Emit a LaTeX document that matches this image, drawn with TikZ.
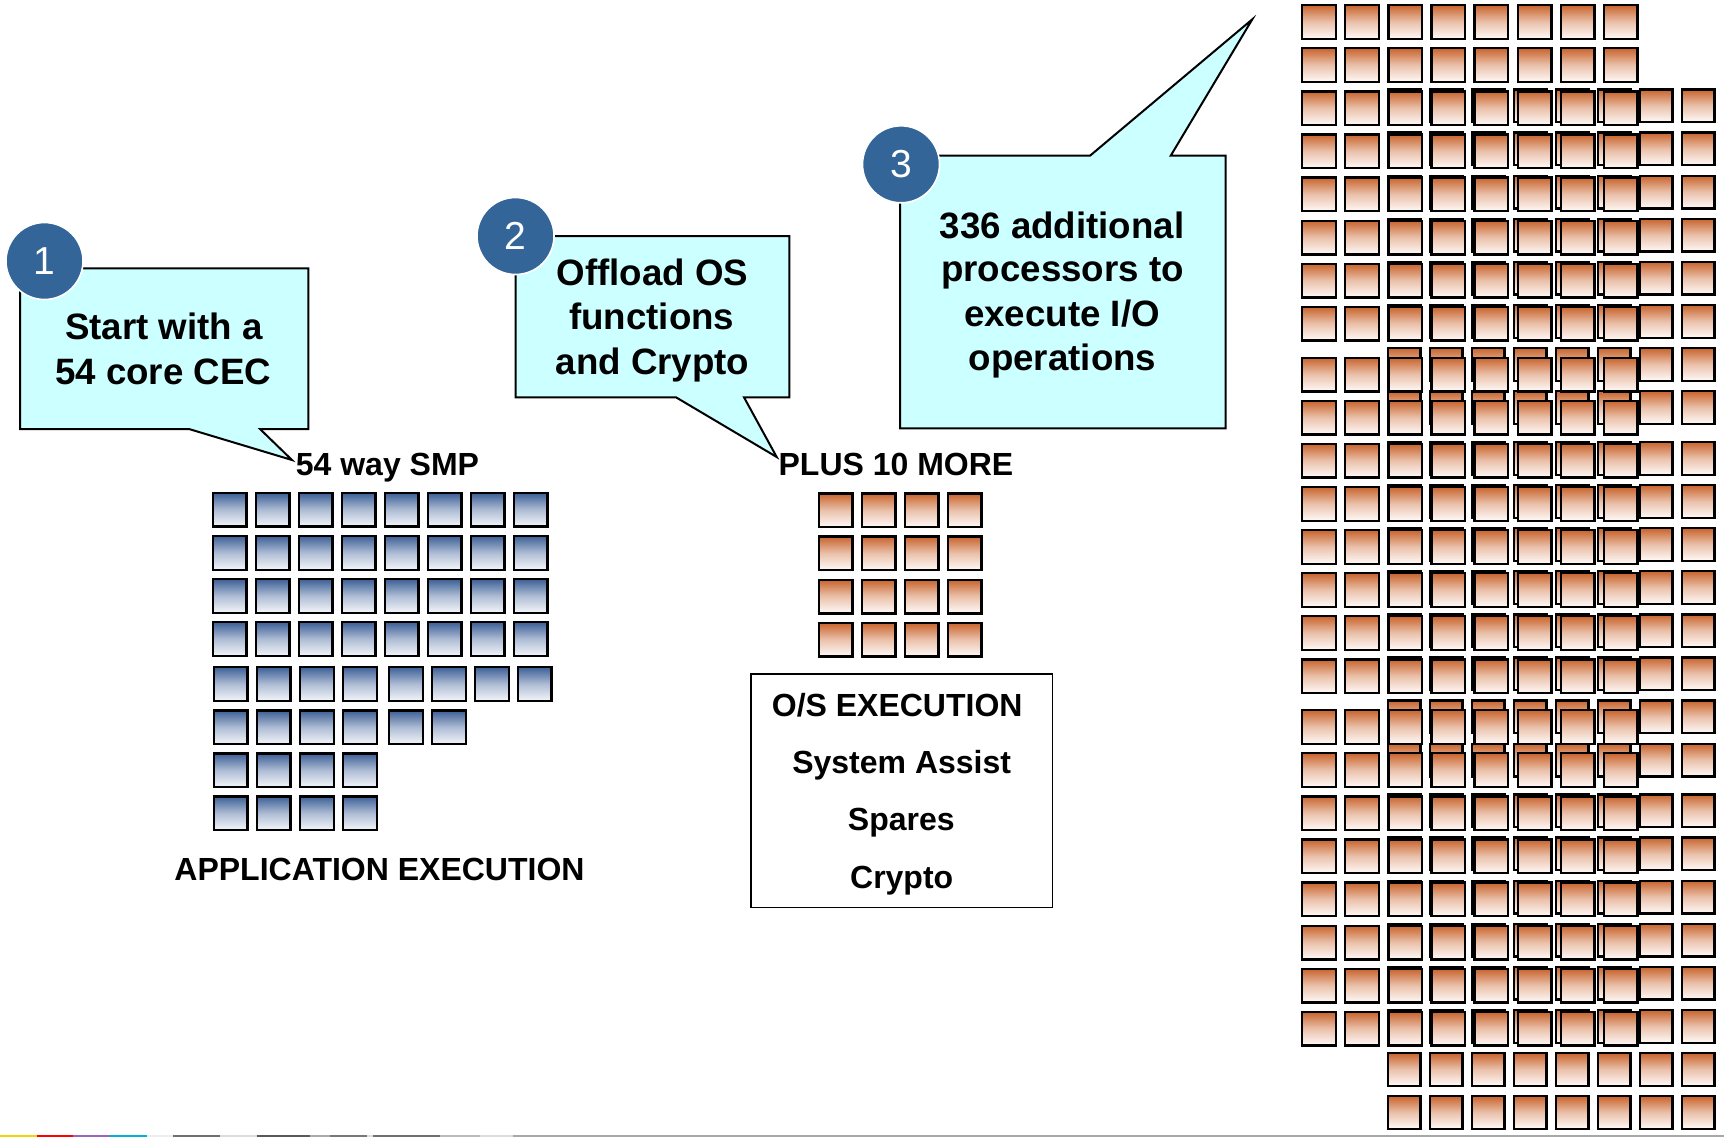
\documentclass[tikz,border=0pt]{standalone}
\usepackage{fontspec}
\setmainfont{Liberation Sans}

\definecolor{calloutfill}{HTML}{CCFFFF}
\definecolor{badgeblue}{HTML}{346599}
\definecolor{coreorange}{HTML}{C8642D}
\definecolor{coreorangebot}{HTML}{FFFAF8}
\definecolor{coreblue}{HTML}{3C5F96}
\definecolor{corebluebot}{HTML}{F4F6FA}
\definecolor{footyellow}{HTML}{F5D10A}
\definecolor{footred}{HTML}{FF0000}
\definecolor{footpurple}{HTML}{9966BB}
\definecolor{footcyan}{HTML}{00B0D8}
\definecolor{footgA}{HTML}{EEEEEE}
\definecolor{footgB}{HTML}{707070}
\definecolor{footgC}{HTML}{DDDDDD}
\definecolor{footgD}{HTML}{5A5A5A}
\definecolor{footgE}{HTML}{AAAAAA}
\definecolor{footgF}{HTML}{777777}
\definecolor{footgG}{HTML}{BBBBBB}
\definecolor{footgH}{HTML}{A8A8A8}

\tikzset{
  corebox/.style={rectangle, draw=black, line width=1.15pt, inner sep=0pt,
    minimum size=16.85pt},
  smpcore/.style={corebox, top color=coreblue, bottom color=corebluebot,
    middle color=coreblue!38!corebluebot},
  iocore/.style={corebox, top color=coreorange, bottom color=coreorangebot,
    middle color=coreorange!38!coreorangebot},
  iocoreback/.style={iocore, minimum size=16.35pt},
  callout/.style={draw=black, line width=1pt, fill=calloutfill, line join=miter},
  badge/.style={circle, fill=badgeblue, draw=white, line width=0.8pt,
    minimum size=38.5pt, inner sep=0pt, text=white,
    font=\fontsize{19.5}{20}\selectfont},
  bubbletext/.style={inner sep=0pt, anchor=base,
    font=\bfseries\fontsize{18.35}{22}\selectfont},
  caption/.style={inner sep=0pt, anchor=base,
    font=\bfseries\fontsize{16}{19}\selectfont},
  osbox/.style={draw=black, line width=0.75pt},
}

\begin{document}
\begin{tikzpicture}[x=0.5pt, y=-0.5pt]
\useasboundingbox (0,0) rectangle (1724,1137);

% ---------- 54-way SMP: application cores ----------
\foreach \r in {0,...,3}
  \foreach \c in {0,...,7}
    \node[smpcore] (smp-\r-\c) at ({229.7+43*\c},{509.7+43.1*\r}) {};
\foreach \x [count=\c] in {212.7,255.7,299,342,388,431,474,516.7}
  \node[smpcore] (smp-4-\c) at (\x+18,684) {};
\foreach \x [count=\c] in {212.7,255.7,299,342,388,431}
  \node[smpcore] (smp-5-\c) at (\x+18,727.3) {};
\foreach \x [count=\c] in {212.7,255.7,299,342} {
  \node[smpcore] (smp-6-\c) at (\x+18,770.3) {};
  \node[smpcore] (smp-7-\c) at (\x+18,813.3) {};
}

\node[caption] (smp) at (387.5,475.7) {54 way SMP};
\node[caption] (app) at (379.5,880) {APPLICATION EXECUTION};

% ---------- ten more: O/S cores ----------
\foreach \r in {0,...,3}
  \foreach \c in {0,...,3}
    \node[iocore] (os-\r-\c) at ({835.7+43*\c},{510.3+43.1*\r}) {};

\node[caption] (plus) at (896,475.7) {PLUS 10 MORE};

\draw[osbox] (751,674) rectangle (1052.7,907.3);
\node[caption] (osexec) at (897.2,716.7) {O/S EXECUTION};
\node[caption] (sap)    at (901.7,773.3) {System Assist};
\node[caption] (spares) at (901.3,830.7) {Spares};
\node[caption] (crypto) at (901.7,888.3) {Crypto};

% ---------- I/O processors: back layer ----------
\foreach \g in {0,1,2}
  \foreach \r in {0,...,7}
    \foreach \c in {0,...,7}
      \node[iocoreback] (iob-\g-\r-\c) at ({1404.2+42*\c},{105.8+43.1*\r+352.5*\g}) {};

% ---------- I/O processors: front layer ----------
\foreach \g in {0,1,2}
  \foreach \r in {0,...,7}
    \foreach \c in {0,...,7}
      \node[iocore] (iof-\g-\r-\c) at ({1319+43.1*\c},{22+43.1*\r+352.5*\g}) {};

% ---------- callout 1 ----------
\coordinate (tip1) at (292,460);
\draw[callout] (20,268.3) -- (308.3,268.3) -- (308.3,429) -- (260,429)
  -- (tip1) -- (189,429) -- (20,429) -- cycle;
\node[bubbletext] (c1a) at (164,339.3) {Start with a};
\node[bubbletext] (c1b) at (163.3,384.3) {54 core CEC};
\node[badge] (b1) at (44.5,261) {1};

% ---------- callout 2 ----------
\coordinate (tip2) at (776.7,457);
\draw[callout] (515.7,236) -- (789.3,236) -- (789.3,397.3) -- (744,397.3)
  -- (tip2) -- (676,397.3) -- (515.7,397.3) -- cycle;
\node[bubbletext] (c2a) at (652.5,285) {Offload OS};
\node[bubbletext] (c2b) at (651.7,329.5) {functions};
\node[bubbletext] (c2c) at (652.5,374) {and Crypto};
\node[badge] (b2) at (515.5,236) {2};

% ---------- callout 3 ----------
\coordinate (tip3) at (1252.3,19.3);
\draw[callout] (900,155.7) -- (1090,155.7) -- (tip3) -- (1170.7,155.7)
  -- (1225.7,155.7) -- (1225.7,428.3) -- (900,428.3) -- cycle;
\node[bubbletext] (c3a) at (1062,238.3) {336 additional};
\node[bubbletext] (c3b) at (1062.5,281.7) {processors to};
\node[bubbletext] (c3c) at (1062,326.7) {execute I/O};
\node[bubbletext] (c3d) at (1062.5,370) {operations};
\node[badge] (b3) at (901,164.3) {3};

% ---------- footer rule ----------
\foreach \a/\b/\col in {0/36.7/footyellow, 36.7/73.3/footred,
    73.3/110/footpurple, 110/146.7/footcyan, 146.7/173/footgA,
    173/220/footgB, 220/256.7/footgC, 256.7/310/footgD, 310/330/footgE,
    330/366.7/footgF, 366.7/373/footgC, 373/440/footgB, 440/480/footgG,
    480/513/footgC, 513/1724/footgH}
  \draw[line width=0.6pt, draw=\col] (\a,1136) -- (\b,1136);

\end{tikzpicture}
\end{document}
